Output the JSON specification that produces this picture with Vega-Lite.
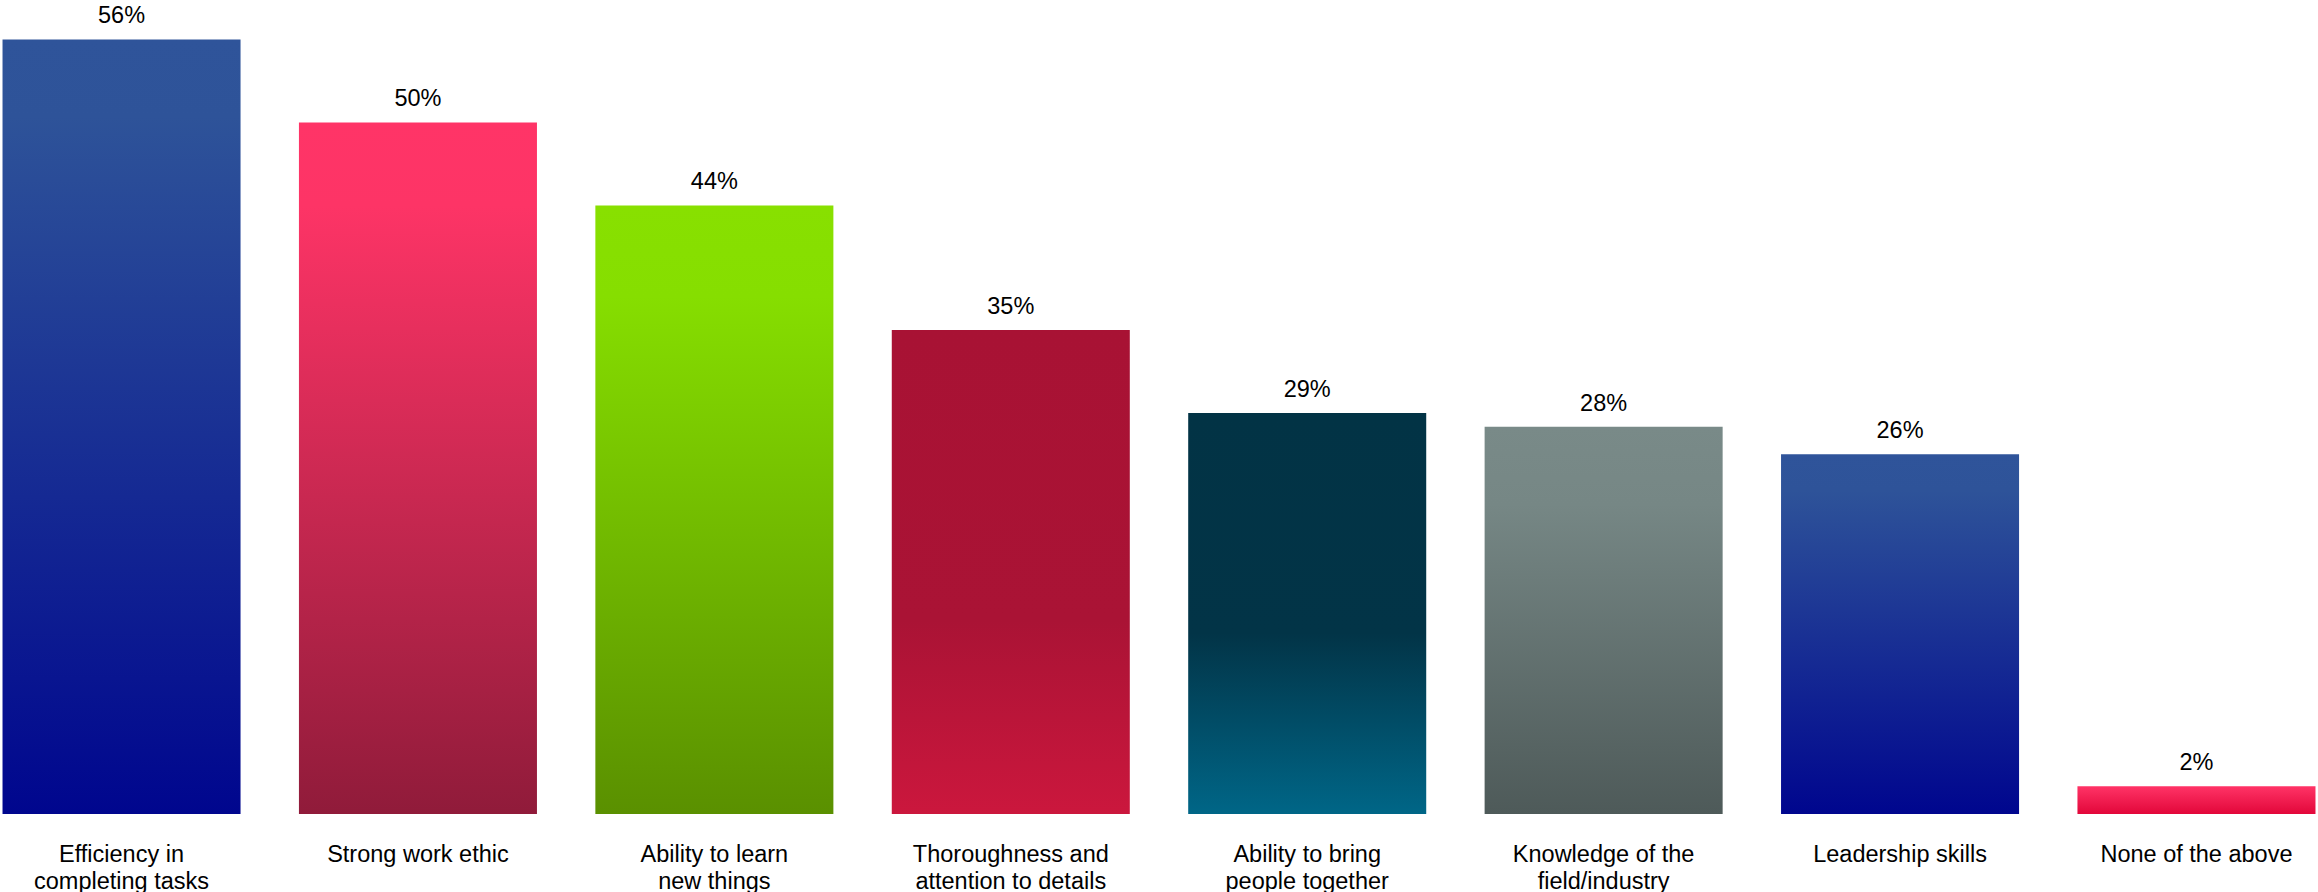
{
  "$schema": "https://vega.github.io/schema/vega-lite/v6.json",
  "autosize": "none",
  "width": 2318,
  "height": 814,
  "padding": {"left": 0, "top": 0, "right": 0, "bottom": 78},
  "background": "white",
  "config": {"view": {"stroke": null}},
  "data": {
    "values": [
      {"item": "Efficiency in completing tasks", "share": 0.56},
      {"item": "Strong work ethic", "share": 0.50},
      {"item": "Ability to learn new things", "share": 0.44},
      {"item": "Thoroughness and attention to details", "share": 0.35},
      {"item": "Ability to bring people together", "share": 0.29},
      {"item": "Knowledge of the field/industry", "share": 0.28},
      {"item": "Leadership skills", "share": 0.26},
      {"item": "None of the above", "share": 0.02}
    ]
  },
  "encoding": {
    "x": {
      "field": "item",
      "type": "nominal",
      "sort": null,
      "scale": {"paddingInner": 0.197, "paddingOuter": 0.0085},
      "axis": {
        "title": null,
        "domain": false,
        "ticks": false,
        "labelAngle": 0,
        "labelBaseline": "top",
        "labelPadding": 28,
        "labelFontSize": 23.5,
        "labelLineHeight": 27,
        "labelFont": "Liberation Sans, Arial, sans-serif",
        "labelColor": "#000000",
        "labelOverlap": false,
        "labelBound": false,
        "labelLimit": 0,
        "labelExpr": "datum.value == 'Efficiency in completing tasks' ? ['Efficiency in', 'completing tasks'] : datum.value == 'Ability to learn new things' ? ['Ability to learn', 'new things'] : datum.value == 'Thoroughness and attention to details' ? ['Thoroughness and', 'attention to details'] : datum.value == 'Ability to bring people together' ? ['Ability to bring', 'people together'] : datum.value == 'Knowledge of the field/industry' ? ['Knowledge of the', 'field/industry'] : datum.value"
      }
    },
    "y": {
      "field": "share",
      "type": "quantitative",
      "scale": {"domain": [0, 0.5885], "nice": false},
      "axis": null
    }
  },
  "layer": [
    {
      "mark": {"type": "bar"},
      "encoding": {
        "fill": {
          "condition": [
            {"test": "datum.item == 'Efficiency in completing tasks' || datum.item == 'Leadership skills'",
             "value": {"gradient": "linear", "x1": 0, "y1": 0, "x2": 0, "y2": 1,
               "stops": [{"offset": 0, "color": "#2F549A"}, {"offset": 0.1, "color": "#2E5399"}, {"offset": 1, "color": "#00068E"}]}},
            {"test": "datum.item == 'Strong work ethic'",
             "value": {"gradient": "linear", "x1": 0, "y1": 0, "x2": 0, "y2": 1,
               "stops": [{"offset": 0, "color": "#FF3467"}, {"offset": 0.12, "color": "#FD3466"}, {"offset": 1, "color": "#901B3A"}]}},
            {"test": "datum.item == 'Ability to learn new things'",
             "value": {"gradient": "linear", "x1": 0, "y1": 0, "x2": 0, "y2": 1,
               "stops": [{"offset": 0, "color": "#88E000"}, {"offset": 0.15, "color": "#86DE00"}, {"offset": 1, "color": "#5A9000"}]}},
            {"test": "datum.item == 'Thoroughness and attention to details'",
             "value": {"gradient": "linear", "x1": 0, "y1": 0, "x2": 0, "y2": 1,
               "stops": [{"offset": 0, "color": "#A81234"}, {"offset": 0.6, "color": "#AA1335"}, {"offset": 1, "color": "#CB173D"}]}},
            {"test": "datum.item == 'Ability to bring people together'",
             "value": {"gradient": "linear", "x1": 0, "y1": 0, "x2": 0, "y2": 1,
               "stops": [{"offset": 0, "color": "#023345"}, {"offset": 0.55, "color": "#023447"}, {"offset": 1, "color": "#006687"}]}},
            {"test": "datum.item == 'Knowledge of the field/industry'",
             "value": {"gradient": "linear", "x1": 0, "y1": 0, "x2": 0, "y2": 1,
               "stops": [{"offset": 0, "color": "#798A88"}, {"offset": 0.2, "color": "#768785"}, {"offset": 1, "color": "#4E5A59"}]}},
            {"test": "datum.item == 'None of the above'",
             "value": {"gradient": "linear", "x1": 0, "y1": 0, "x2": 0, "y2": 1,
               "stops": [{"offset": 0, "color": "#FF3366"}, {"offset": 1, "color": "#E2073A"}]}}
          ],
          "value": "#2E5399"
        }
      }
    },
    {
      "mark": {
        "type": "text",
        "baseline": "alphabetic",
        "align": "center",
        "dy": -16,
        "fontSize": 23.5,
        "font": "Liberation Sans, Arial, sans-serif",
        "color": "#000000"
      },
      "encoding": {
        "text": {"field": "share", "type": "quantitative", "format": ".0%"}
      }
    }
  ]
}
